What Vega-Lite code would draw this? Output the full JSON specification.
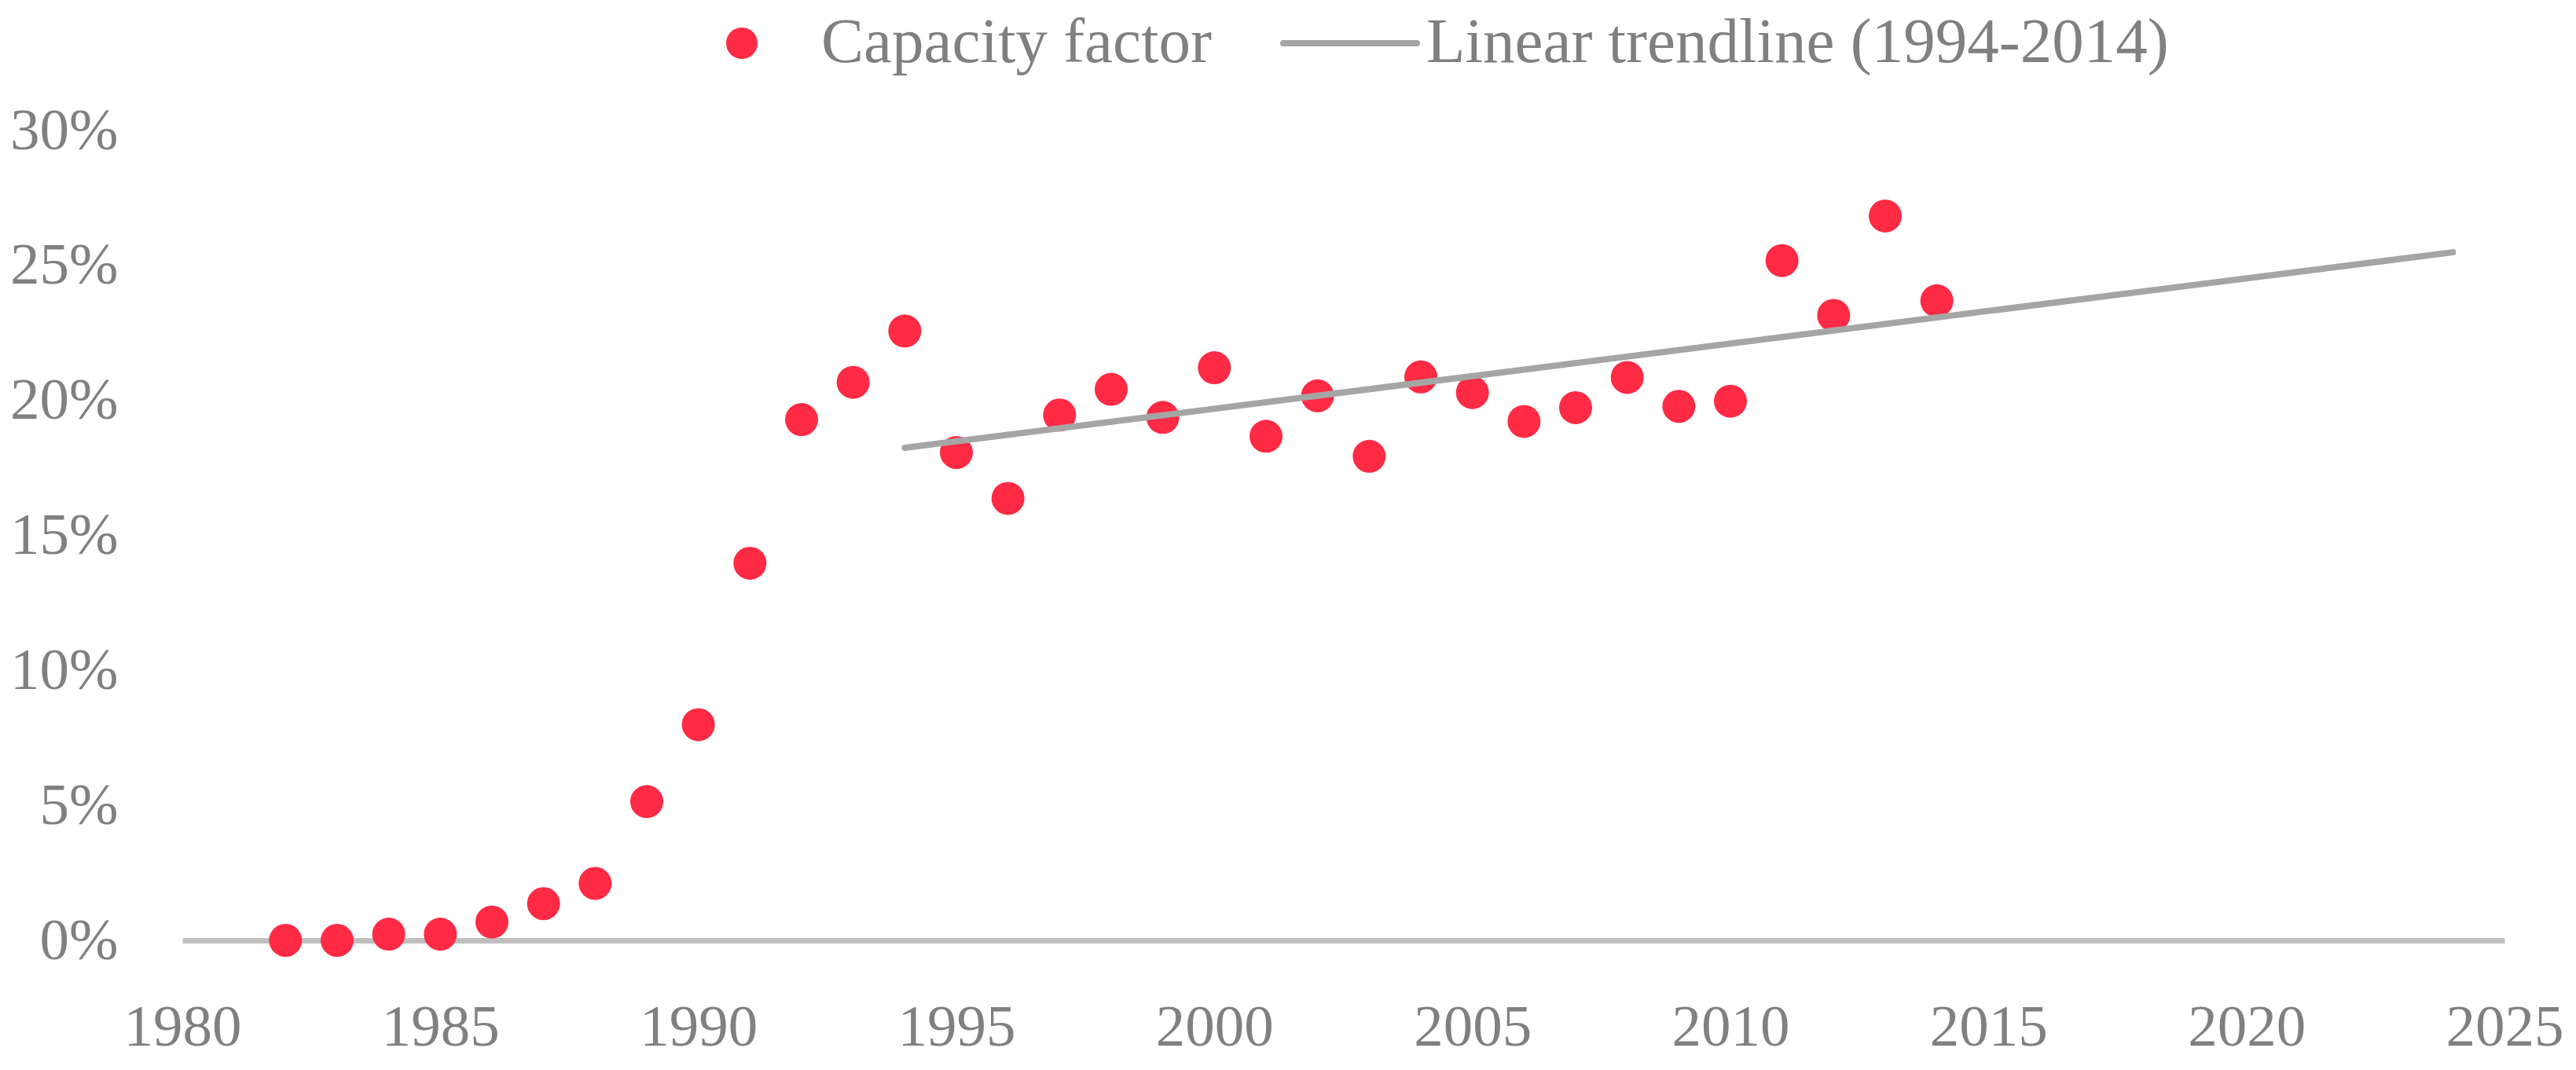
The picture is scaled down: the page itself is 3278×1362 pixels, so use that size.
{
  "$schema": "https://vega.github.io/schema/vega-lite/v6.json",
  "width": 2955,
  "height": 1031,
  "autosize": {"type": "none"},
  "padding": {"left": 232, "top": 166, "right": 91, "bottom": 165},
  "background": "white",
  "config": {"view": {"stroke": null}, "font": "Liberation Serif"},
  "data": {
    "values": [
      {"year": 1982, "cf": 0.0000},
      {"year": 1983, "cf": 0.0000},
      {"year": 1984, "cf": 0.0023},
      {"year": 1985, "cf": 0.0023},
      {"year": 1986, "cf": 0.0068},
      {"year": 1987, "cf": 0.0136},
      {"year": 1988, "cf": 0.0211},
      {"year": 1989, "cf": 0.0514},
      {"year": 1990, "cf": 0.0799},
      {"year": 1991, "cf": 0.1397},
      {"year": 1992, "cf": 0.1929},
      {"year": 1993, "cf": 0.2067},
      {"year": 1994, "cf": 0.2257},
      {"year": 1995, "cf": 0.1807},
      {"year": 1996, "cf": 0.1637},
      {"year": 1997, "cf": 0.1946},
      {"year": 1998, "cf": 0.2041},
      {"year": 1999, "cf": 0.1937},
      {"year": 2000, "cf": 0.2121},
      {"year": 2001, "cf": 0.1867},
      {"year": 2002, "cf": 0.2017},
      {"year": 2003, "cf": 0.1793},
      {"year": 2004, "cf": 0.2087},
      {"year": 2005, "cf": 0.2029},
      {"year": 2006, "cf": 0.1922},
      {"year": 2007, "cf": 0.1973},
      {"year": 2008, "cf": 0.2085},
      {"year": 2009, "cf": 0.1978},
      {"year": 2010, "cf": 0.1997},
      {"year": 2011, "cf": 0.2518},
      {"year": 2012, "cf": 0.2315},
      {"year": 2013, "cf": 0.2683},
      {"year": 2014, "cf": 0.2369}
    ]
  },
  "encoding": {
    "x": {
      "field": "year",
      "type": "quantitative",
      "scale": {"domain": [1980, 2025], "nice": false, "zero": false},
      "axis": {
        "values": [1980, 1985, 1990, 1995, 2000, 2005, 2010, 2015, 2020, 2025],
        "format": "d",
        "title": null,
        "grid": false,
        "ticks": false,
        "domainColor": "#bfbfbf",
        "domainWidth": 7,
        "labelFontSize": 75,
        "labelColor": "#808080",
        "labelPadding": 74,
        "labelFlush": false,
        "labelOverlap": false
      }
    },
    "y": {
      "field": "cf",
      "type": "quantitative",
      "scale": {"domain": [0, 0.3], "nice": false},
      "axis": {
        "values": [0, 0.05, 0.1, 0.15, 0.2, 0.25, 0.3],
        "format": ".0%",
        "title": null,
        "grid": false,
        "ticks": false,
        "domain": false,
        "labelFontSize": 75,
        "labelColor": "#808080",
        "labelPadding": 82,
        "labelOverlap": false
      }
    }
  },
  "layer": [
    {
      "mark": {"type": "point", "filled": true, "size": 1764, "opacity": 1},
      "encoding": {
        "fill": {
          "datum": "Capacity factor",
          "scale": {"range": ["#ff2a44"]},
          "legend": {
            "orient": "none",
            "legendX": 671.5,
            "legendY": -151.5,
            "direction": "horizontal",
            "title": null,
            "padding": 0,
            "symbolType": "circle",
            "symbolSize": 1600,
            "symbolStrokeWidth": 0,
            "labelFontSize": 81,
            "labelColor": "#808080",
            "labelOffset": 60.5,
            "labelLimit": 2000
          }
        }
      }
    },
    {
      "transform": [
        {"filter": "datum.year >= 1994 && datum.year <= 2014"},
        {"regression": "cf", "on": "year", "method": "linear", "extent": [1994, 2024]}
      ],
      "mark": {"type": "line", "strokeWidth": 8, "strokeCap": "round"},
      "encoding": {
        "stroke": {
          "datum": "Linear trendline (1994-2014)",
          "scale": {"range": ["#a5a5a5"]},
          "legend": {
            "orient": "none",
            "legendX": 1397,
            "legendY": -200,
            "direction": "horizontal",
            "title": null,
            "padding": 0,
            "symbolType": "stroke",
            "symbolSize": 28900,
            "symbolStrokeWidth": 8,
            "labelFontSize": 81,
            "labelColor": "#808080",
            "labelOffset": 8,
            "labelLimit": 2000,
            "encode": {"symbols": {"update": {"strokeCap": {"value": "round"}}}}
          }
        }
      }
    }
  ]
}
